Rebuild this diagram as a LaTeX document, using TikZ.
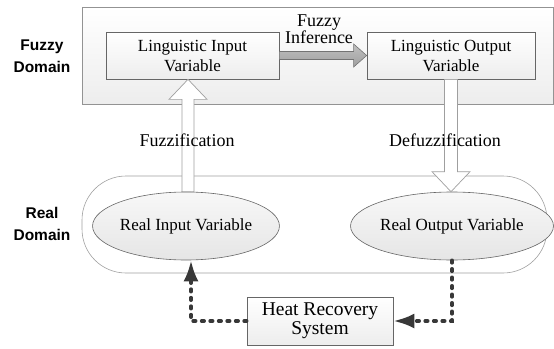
\documentclass[tikz,border=0pt]{standalone}
\usepackage{fontspec}
\setmainfont{Liberation Serif}
\newfontfamily\lblfont{Liberation Sans}
\usepackage{tikz}
\usetikzlibrary{calc}
\usetikzlibrary{arrows.meta}
\usetikzlibrary{shapes.geometric}
\usetikzlibrary{shadows}

\begin{document}
\begin{tikzpicture}[x=1pt,y=-1pt,
    varbox/.style={draw=gray!80!black, line width=0.7pt, top color=white, bottom color=gray!14,
      drop shadow={shadow xshift=1.2pt, shadow yshift=-1.2pt, opacity=0.25},
      minimum height=47pt, inner sep=0pt, align=center, font=\fontsize{17}{20}\selectfont},
    varell/.style={ellipse, draw=gray!80!black, line width=0.6pt, top color=gray!6, bottom color=gray!20,
      minimum width=162pt, minimum height=68pt, inner sep=0pt, font=\fontsize{17}{20}\selectfont},
    domlbl/.style={align=center, font=\lblfont\bfseries\fontsize{15.5}{22}\selectfont},
    steplbl/.style={align=center, font=\fontsize{18}{14}\selectfont},
    hollow/.style={draw=gray!75, line width=0.7pt, fill=white},
    feedback/.style={draw=black!78, line width=3.6pt, line cap=round, dash pattern=on 2.5pt off 6pt,
      -{Latex[length=21pt,width=15pt]}}]
  \useasboundingbox (0,0) rectangle (554,348);

  \draw[draw=gray!85, line width=0.7pt, top color=white, bottom color=gray!14] (82,7) rectangle (553,104);
  \draw[draw=gray!75, line width=0.6pt, rounded corners=44pt] (82,176) rectangle (547,273);

  \node[domlbl] (fuzzydom) at (42,56) {Fuzzy\\Domain};
  \node[domlbl] (realdom) at (42,223.5) {Real\\Domain};

  \node[varbox, minimum width=173pt] (lin) at (192.5,55.5) {Linguistic Input\\Variable};
  \node[varbox, minimum width=168pt] (lout) at (451,55.5) {Linguistic Output\\Variable};
  \node[varell] (rin) at (186,226) {Real Input Variable};
  \node[varell, minimum width=170pt] (rout) at (452,226) {Real Output Variable};
  \node[varbox, minimum width=146pt, minimum height=48pt, font=\fontsize{19.5}{19}\selectfont] (heat) at (320,321) {Heat Recovery\\System};

  \draw[draw=gray!90!black, line width=0.6pt, top color=gray!50, bottom color=gray!75]
    ($(lin.east)+(0,-4)$) -- ($(lout.west)+(-13,-4)$) -- ($(lout.west)+(-13,-11.5)$) -- (lout.west)
    -- ($(lout.west)+(-13,11.5)$) -- ($(lout.west)+(-13,4)$) -- ($(lin.east)+(0,4)$) -- cycle;
  \node[steplbl] (inference) at (319,29) {Fuzzy\\Inference};

  \path (lin.south) ++(-4.5,0) coordinate (fztip);
  \draw[hollow] (fztip) -- ($(fztip)+(19,20)$) -- ($(fztip)+(6,20)$) -- ($(fztip |- rin.north)+(6,0)$)
    -- ($(fztip |- rin.north)+(-6,0)$) -- ($(fztip)+(-6,20)$) -- ($(fztip)+(-19,20)$) -- cycle;
  \node[steplbl] (fuzzification) at (187,140) {Fuzzification};

  \path (lout.south |- rout.north) coordinate (dftip);
  \draw[hollow] (dftip) -- ($(dftip)+(19,-20)$) -- ($(dftip)+(6.5,-20)$) -- ($(dftip |- lout.south)+(6.5,0)$)
    -- ($(dftip |- lout.south)+(-6.5,0)$) -- ($(dftip)+(-6.5,-20)$) -- ($(dftip)+(-19,-20)$) -- cycle;
  \node[steplbl] (defuzzification) at (445,140) {Defuzzification};

  \draw[feedback] (heat.west) -| ($(rin.south)+(5,0)$);
  \draw[feedback] (rout.south) |- (heat.east);
\end{tikzpicture}
\end{document}
